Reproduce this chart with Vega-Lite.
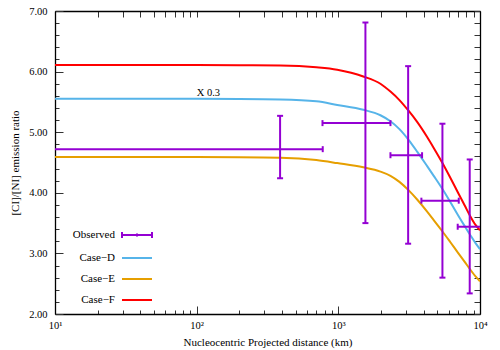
{
  "$schema": "https://vega.github.io/schema/vega-lite/v6.json",
  "width": 425,
  "height": 303,
  "autosize": "none",
  "padding": {"left": 55, "top": 11, "right": 20, "bottom": 36},
  "config": {
    "view": {"stroke": null},
    "font": "Liberation Serif",
    "axis": {"grid": false, "domain": true, "ticks": true, "domainColor": "black", "domainWidth": 1.3, "domainOpacity": 1, "tickColor": "#333", "tickWidth": 1, "tickOpacity": 1, "labelFont": "Liberation Serif", "titleFont": "Liberation Serif", "labelColor": "black", "titleColor": "black", "labelFontSize": 10.5, "titleFontSize": 11, "titleFontWeight": "normal"}
  },
  "datasets": {
    "curves": [
      {"dist": 10, "ratio": 6.11, "series": "Case−F"}, {"dist": 30, "ratio": 6.11, "series": "Case−F"}, {"dist": 100, "ratio": 6.11, "series": "Case−F"}, {"dist": 200, "ratio": 6.105, "series": "Case−F"}, {"dist": 390, "ratio": 6.10, "series": "Case−F"}, {"dist": 700, "ratio": 6.07, "series": "Case−F"}, {"dist": 982, "ratio": 6.03, "series": "Case−F"}, {"dist": 1500, "ratio": 5.92, "series": "Case−F"}, {"dist": 1982, "ratio": 5.80, "series": "Case−F"}, {"dist": 2333, "ratio": 5.67, "series": "Case−F"}, {"dist": 2700, "ratio": 5.53, "series": "Case−F"}, {"dist": 3140, "ratio": 5.35, "series": "Case−F"}, {"dist": 3600, "ratio": 5.17, "series": "Case−F"}, {"dist": 4236, "ratio": 4.92, "series": "Case−F"}, {"dist": 4713, "ratio": 4.74, "series": "Case−F"}, {"dist": 5405, "ratio": 4.50, "series": "Case−F"}, {"dist": 6200, "ratio": 4.24, "series": "Case−F"}, {"dist": 7000, "ratio": 4.00, "series": "Case−F"}, {"dist": 7800, "ratio": 3.79, "series": "Case−F"}, {"dist": 8553, "ratio": 3.61, "series": "Case−F"}, {"dist": 9300, "ratio": 3.47, "series": "Case−F"}, {"dist": 10000, "ratio": 3.38, "series": "Case−F"},
      {"dist": 10, "ratio": 5.55, "series": "Case−D"}, {"dist": 30, "ratio": 5.55, "series": "Case−D"}, {"dist": 100, "ratio": 5.55, "series": "Case−D"}, {"dist": 200, "ratio": 5.548, "series": "Case−D"}, {"dist": 390, "ratio": 5.54, "series": "Case−D"}, {"dist": 700, "ratio": 5.51, "series": "Case−D"}, {"dist": 982, "ratio": 5.45, "series": "Case−D"}, {"dist": 1500, "ratio": 5.37, "series": "Case−D"}, {"dist": 1982, "ratio": 5.28, "series": "Case−D"}, {"dist": 2333, "ratio": 5.18, "series": "Case−D"}, {"dist": 2700, "ratio": 5.05, "series": "Case−D"}, {"dist": 3140, "ratio": 4.87, "series": "Case−D"}, {"dist": 3600, "ratio": 4.68, "series": "Case−D"}, {"dist": 4236, "ratio": 4.44, "series": "Case−D"}, {"dist": 4713, "ratio": 4.28, "series": "Case−D"}, {"dist": 5405, "ratio": 4.07, "series": "Case−D"}, {"dist": 6200, "ratio": 3.84, "series": "Case−D"}, {"dist": 7000, "ratio": 3.63, "series": "Case−D"}, {"dist": 7800, "ratio": 3.45, "series": "Case−D"}, {"dist": 8553, "ratio": 3.30, "series": "Case−D"}, {"dist": 9300, "ratio": 3.17, "series": "Case−D"}, {"dist": 10000, "ratio": 3.07, "series": "Case−D"},
      {"dist": 10, "ratio": 4.59, "series": "Case−E"}, {"dist": 30, "ratio": 4.59, "series": "Case−E"}, {"dist": 100, "ratio": 4.59, "series": "Case−E"}, {"dist": 200, "ratio": 4.588, "series": "Case−E"}, {"dist": 390, "ratio": 4.58, "series": "Case−E"}, {"dist": 700, "ratio": 4.54, "series": "Case−E"}, {"dist": 982, "ratio": 4.49, "series": "Case−E"}, {"dist": 1500, "ratio": 4.42, "series": "Case−E"}, {"dist": 1982, "ratio": 4.35, "series": "Case−E"}, {"dist": 2333, "ratio": 4.28, "series": "Case−E"}, {"dist": 2700, "ratio": 4.18, "series": "Case−E"}, {"dist": 3140, "ratio": 4.04, "series": "Case−E"}, {"dist": 3600, "ratio": 3.89, "series": "Case−E"}, {"dist": 4236, "ratio": 3.69, "series": "Case−E"}, {"dist": 4713, "ratio": 3.55, "series": "Case−E"}, {"dist": 5405, "ratio": 3.37, "series": "Case−E"}, {"dist": 6200, "ratio": 3.18, "series": "Case−E"}, {"dist": 7000, "ratio": 3.01, "series": "Case−E"}, {"dist": 7800, "ratio": 2.86, "series": "Case−E"}, {"dist": 8553, "ratio": 2.73, "series": "Case−E"}, {"dist": 9300, "ratio": 2.62, "series": "Case−E"}, {"dist": 10000, "ratio": 2.54, "series": "Case−E"}
    ],
    "obs": [
      {"xc": 388, "xlo": 5, "xhi": 776, "yc": 4.72, "ylo": 4.24, "yhi": 5.27, "series": "Observed"},
      {"xc": 1553, "xlo": 773, "xhi": 2333, "yc": 5.15, "ylo": 3.50, "yhi": 6.81, "series": "Observed"},
      {"xc": 3110, "xlo": 2333, "xhi": 3900, "yc": 4.62, "ylo": 3.16, "yhi": 6.09, "series": "Observed"},
      {"xc": 5430, "xlo": 3857, "xhi": 7080, "yc": 3.87, "ylo": 2.60, "yhi": 5.14, "series": "Observed"},
      {"xc": 8460, "xlo": 6960, "xhi": 11000, "yc": 3.44, "ylo": 2.34, "yhi": 4.55, "series": "Observed"}
    ],
    "note": [{"x": 121, "y": 5.65, "label": "X 0.3"}]
  },
  "layer": [
    {
      "data": {"name": "curves"},
      "mark": {"type": "line", "strokeWidth": 2, "clip": true, "interpolate": "monotone"},
      "encoding": {
        "x": {"field": "dist", "type": "quantitative", "scale": {"type": "log", "domain": [10, 10000], "nice": false},
          "axis": {"title": "Nucleocentric Projected distance (km)", "values": [10,20,30,40,50,60,70,80,90,100,200,300,400,500,600,700,800,900,1000,2000,3000,4000,5000,6000,7000,8000,9000,10000],
            "labelExpr": "datum.value == 10 ? '10¹' : datum.value == 100 ? '10²' : datum.value == 1000 ? '10³' : datum.value == 10000 ? '10⁴' : ''",
            "labelOverlap": false, "labelFlush": false, "labelPadding": 14, "titlePadding": 2,
            "tickSize": {"condition": {"test": "datum.value == 10 || datum.value == 100 || datum.value == 1000 || datum.value == 10000", "value": -8}, "value": -4}}},
        "y": {"field": "ratio", "type": "quantitative", "scale": {"domain": [2, 7], "nice": false, "zero": false},
          "axis": {"title": "[CI]/[NI] emission ratio", "values": [2,2.2,2.4,2.6,2.8,3,3.2,3.4,3.6,3.8,4,4.2,4.4,4.6,4.8,5,5.2,5.4,5.6,5.8,6,6.2,6.4,6.6,6.8,7],
            "labelExpr": "datum.value % 1 == 0 ? format(datum.value, '.2f') : ''", "labelOverlap": false, "labelFlush": false, "labelPadding": 16, "titlePadding": 8,
            "tickSize": {"condition": {"test": "datum.value % 1 == 0", "value": -8}, "value": -4}}},
        "color": {"field": "series", "type": "nominal",
          "scale": {"domain": ["Observed", "Case−D", "Case−E", "Case−F"], "range": ["#9400D3", "#56B4E9", "#E69F00", "#FF0000"]},
          "legend": {"title": null, "orient": "none", "legendX": 66, "legendY": 208, "symbolType": "stroke", "symbolSize": 900, "symbolStrokeWidth": 2, "rowPadding": -8.7,
            "labelAlign": "right", "labelOffset": -38, "labelFontSize": 11, "labelFont": "Liberation Serif", "labelColor": "black",
            "encode": {"symbols": {"update": {
              "shape": {"signal": "datum.value === 'Observed' ? 'M-1,0L1,0M-1,-0.2L-1,0.2M1,-0.2L1,0.2M0,-0.1L0,0.1' : 'stroke'"},
              "stroke": {"signal": "scale('color', datum.value)"},
              "fill": {"value": "transparent"},
              "strokeWidth": {"value": 2},
              "opacity": {"value": 1},
              "strokeOpacity": {"value": 1}}}}}}
      }
    },
    {
      "data": {"name": "obs"},
      "mark": {"type": "rule", "strokeWidth": 2, "clip": true},
      "encoding": {
        "x": {"field": "xc", "type": "quantitative", "axis": null},
        "y": {"field": "ylo", "type": "quantitative", "axis": null},
        "y2": {"field": "yhi"},
        "color": {"field": "series", "type": "nominal"}
      }
    },
    {
      "data": {"name": "obs"},
      "mark": {"type": "rule", "strokeWidth": 2, "clip": true},
      "encoding": {
        "x": {"field": "xlo", "type": "quantitative", "axis": null},
        "x2": {"field": "xhi"},
        "y": {"field": "yc", "type": "quantitative", "axis": null},
        "color": {"field": "series", "type": "nominal"}
      }
    },
    {
      "data": {"name": "obs"},
      "mark": {"type": "tick", "orient": "horizontal", "size": 6, "thickness": 2, "clip": true, "opacity": 1},
      "encoding": {
        "x": {"field": "xc", "type": "quantitative", "axis": null},
        "y": {"field": "ylo", "type": "quantitative", "axis": null},
        "color": {"field": "series", "type": "nominal"}
      }
    },
    {
      "data": {"name": "obs"},
      "mark": {"type": "tick", "orient": "horizontal", "size": 6, "thickness": 2, "clip": true, "opacity": 1},
      "encoding": {
        "x": {"field": "xc", "type": "quantitative", "axis": null},
        "y": {"field": "yhi", "type": "quantitative", "axis": null},
        "color": {"field": "series", "type": "nominal"}
      }
    },
    {
      "data": {"name": "obs"},
      "mark": {"type": "tick", "orient": "vertical", "size": 6, "thickness": 2, "clip": true, "opacity": 1},
      "encoding": {
        "x": {"field": "xlo", "type": "quantitative", "axis": null},
        "y": {"field": "yc", "type": "quantitative", "axis": null},
        "color": {"field": "series", "type": "nominal"}
      }
    },
    {
      "data": {"name": "obs"},
      "mark": {"type": "tick", "orient": "vertical", "size": 6, "thickness": 2, "clip": true, "opacity": 1},
      "encoding": {
        "x": {"field": "xhi", "type": "quantitative", "axis": null},
        "y": {"field": "yc", "type": "quantitative", "axis": null},
        "color": {"field": "series", "type": "nominal"}
      }
    },
    {
      "data": {"name": "note"},
      "mark": {"type": "text", "font": "Liberation Serif", "fontSize": 10.5, "color": "black", "baseline": "middle", "align": "center"},
      "encoding": {
        "x": {"field": "x", "type": "quantitative", "axis": null},
        "y": {"field": "y", "type": "quantitative", "axis": null},
        "text": {"field": "label"}
      }
    },
    {
      "data": {"name": "note"},
      "mark": {"type": "point", "opacity": 0},
      "encoding": {
        "x": {"field": "x", "type": "quantitative",
          "axis": {"orient": "top", "title": null, "labels": false, "values": [10,20,30,40,50,60,70,80,90,100,200,300,400,500,600,700,800,900,1000,2000,3000,4000,5000,6000,7000,8000,9000,10000],
            "tickSize": -6}},
        "y": {"field": "y", "type": "quantitative",
          "axis": {"orient": "right", "title": null, "labels": false, "values": [2,2.2,2.4,2.6,2.8,3,3.2,3.4,3.6,3.8,4,4.2,4.4,4.6,4.8,5,5.2,5.4,5.6,5.8,6,6.2,6.4,6.6,6.8,7],
            "tickSize": -6}}
      }
    }
  ],
  "resolve": {"axis": {"x": "independent", "y": "independent"}}
}
